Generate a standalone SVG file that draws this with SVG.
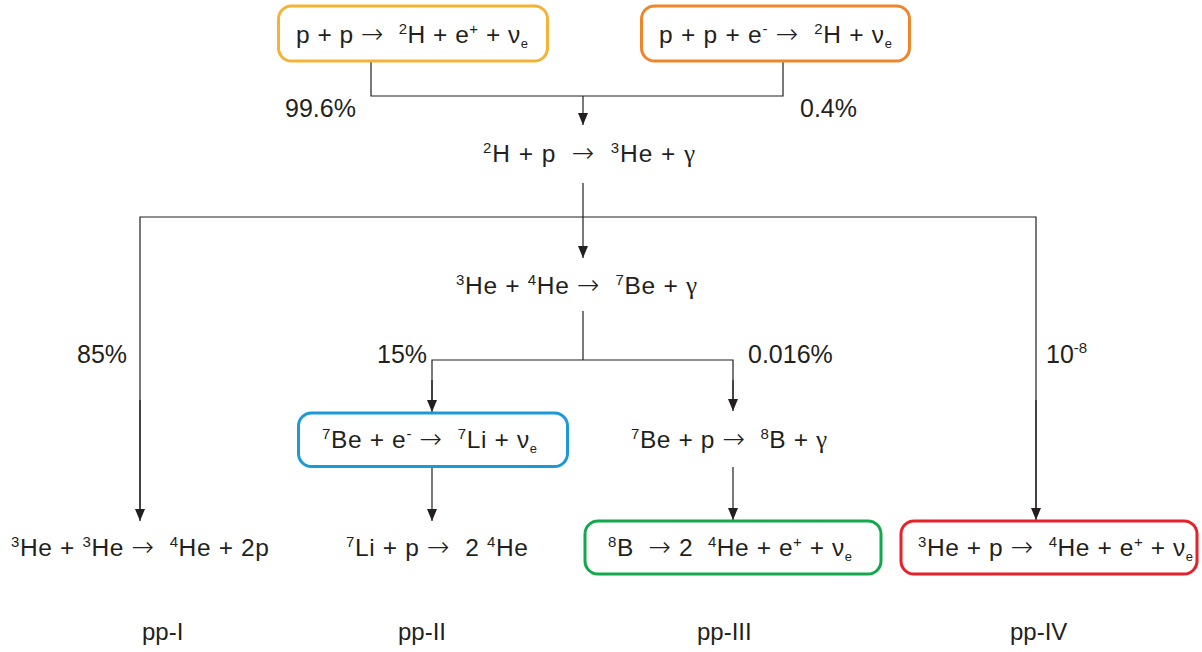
<svg xmlns="http://www.w3.org/2000/svg" width="1202" height="652" viewBox="0 0 1202 652">
<defs>
<style>
text{font-family:"Liberation Sans",Arial,Helvetica,sans-serif;fill:#231F20;white-space:pre}
.eq{font-size:24.5px}
.pct{font-size:25px}
.lbl{font-size:24px}
.sup{font-size:15px}
.sub{font-size:13px}
.gam{font-family:"Liberation Serif","Times New Roman",serif;font-size:25px}
.arr{font-family:"DejaVu Sans",sans-serif;font-size:27px;font-weight:200}
.box{fill:#fff;stroke-width:3}
.ln{fill:none;stroke:#231F20;stroke-width:1.2}
.ar{fill:none;stroke:#231F20;stroke-width:1.2;marker-end:url(#ah)}
</style>
<marker id="ah" markerUnits="userSpaceOnUse" markerWidth="12" markerHeight="12" viewBox="0 0 12 10" refX="12" refY="5" orient="auto">
<path d="M0,0 L12,5 L0,10 Z" fill="#231F20"/>
</marker>
</defs>
<rect width="1202" height="652" fill="#fff"/>
<g id="connectors">
<polyline class="ln" points="371,61 371,96 783,96 783,61"/>
<line class="ar" x1="583" y1="96" x2="583" y2="125"/>
<line class="ar" x1="583" y1="183" x2="583" y2="258"/>
<polyline class="ln" points="140,510 140,217 1036,217 1036,510"/>
<line class="ar" x1="140" y1="400" x2="140" y2="521"/>
<line class="ar" x1="1036" y1="400" x2="1036" y2="520"/>
<line class="ln" x1="583" y1="311" x2="583" y2="360"/>
<polyline class="ln" points="432,400 432,360 733,360 733,400"/>
<line class="ar" x1="432" y1="380" x2="432" y2="412"/>
<line class="ar" x1="733" y1="380" x2="733" y2="411"/>
<line class="ar" x1="432" y1="467" x2="432" y2="521"/>
<line class="ar" x1="733" y1="467" x2="733" y2="520"/>
</g>
<g id="n-pp">
<rect class="box" x="278.5" y="6" width="269" height="55" rx="13" stroke="#F5B335"/>
<text class="eq" x="296" y="43" textLength="232" lengthAdjust="spacing" xml:space="preserve">p + p <tspan class="arr">→</tspan>  <tspan class="sup" dy="-9">2</tspan><tspan dy="9">H + e</tspan><tspan class="sup" dy="-9">+</tspan><tspan dy="9"> + ν</tspan><tspan class="sub" dy="5">e</tspan></text>
</g>
<g id="n-pep">
<rect class="box" x="641.5" y="6" width="268" height="55" rx="13" stroke="#F0862A"/>
<text class="eq" x="659" y="43" textLength="233" lengthAdjust="spacing" xml:space="preserve">p + p + e<tspan class="sup" dy="-9">-</tspan><tspan dy="9"> </tspan><tspan class="arr">→</tspan>  <tspan class="sup" dy="-9">2</tspan><tspan dy="9">H + ν</tspan><tspan class="sub" dy="5">e</tspan></text>
</g>
<g id="l-996"><text class="pct" x="285" y="117">99.6%</text></g>
<g id="l-04"><text class="pct" x="800" y="117">0.4%</text></g>
<g id="n-dp">
<text class="eq" x="483" y="162" textLength="212" lengthAdjust="spacing" xml:space="preserve"><tspan class="sup" dy="-9">2</tspan><tspan dy="9">H + p  </tspan><tspan class="arr">→</tspan>  <tspan class="sup" dy="-9">3</tspan><tspan dy="9">He + </tspan><tspan class="gam">γ</tspan></text>
</g>
<g id="n-he34">
<text class="eq" x="456" y="294" textLength="241" lengthAdjust="spacing" xml:space="preserve"><tspan class="sup" dy="-9">3</tspan><tspan dy="9">He + </tspan><tspan class="sup" dy="-9">4</tspan><tspan dy="9">He </tspan><tspan class="arr">→</tspan>  <tspan class="sup" dy="-9">7</tspan><tspan dy="9">Be + </tspan><tspan class="gam">γ</tspan></text>
</g>
<g id="l-85"><text class="pct" x="77" y="363">85%</text></g>
<g id="l-15"><text class="pct" x="377" y="363">15%</text></g>
<g id="l-0016"><text class="pct" x="748" y="363">0.016%</text></g>
<g id="l-108"><text class="pct" x="1046" y="363">10<tspan class="sup" dy="-10">-8</tspan></text></g>
<g id="n-be7e">
<rect class="box" x="298.5" y="413" width="269" height="53.5" rx="13" stroke="#1B9AD7"/>
<text class="eq" x="322" y="448" textLength="215" lengthAdjust="spacing" xml:space="preserve"><tspan class="sup" dy="-9">7</tspan><tspan dy="9">Be + e</tspan><tspan class="sup" dy="-9">-</tspan><tspan dy="9"> </tspan><tspan class="arr">→</tspan>  <tspan class="sup" dy="-9">7</tspan><tspan dy="9">Li + ν</tspan><tspan class="sub" dy="5">e</tspan></text>
</g>
<g id="n-be7p">
<text class="eq" x="631" y="448" textLength="196" lengthAdjust="spacing" xml:space="preserve"><tspan class="sup" dy="-9">7</tspan><tspan dy="9">Be + p </tspan><tspan class="arr">→</tspan>  <tspan class="sup" dy="-9">8</tspan><tspan dy="9">B + </tspan><tspan class="gam">γ</tspan></text>
</g>
<g id="n-he33">
<text class="eq" x="11" y="556" textLength="258" lengthAdjust="spacing" xml:space="preserve"><tspan class="sup" dy="-9">3</tspan><tspan dy="9">He + </tspan><tspan class="sup" dy="-9">3</tspan><tspan dy="9">He </tspan><tspan class="arr">→</tspan>  <tspan class="sup" dy="-9">4</tspan><tspan dy="9">He + 2p</tspan></text>
</g>
<g id="n-li7p">
<text class="eq" x="346" y="556" textLength="182" lengthAdjust="spacing" xml:space="preserve"><tspan class="sup" dy="-9">7</tspan><tspan dy="9">Li + p </tspan><tspan class="arr">→</tspan>  2 <tspan class="sup" dy="-9">4</tspan><tspan dy="9">He</tspan></text>
</g>
<g id="n-b8">
<rect class="box" x="585" y="521" width="296" height="53" rx="13" stroke="#12A84B"/>
<text class="eq" x="608" y="556" textLength="244" lengthAdjust="spacing" xml:space="preserve"><tspan class="sup" dy="-9">8</tspan><tspan dy="9">B  </tspan><tspan class="arr">→</tspan> 2  <tspan class="sup" dy="-9">4</tspan><tspan dy="9">He + e</tspan><tspan class="sup" dy="-9">+</tspan><tspan dy="9"> + ν</tspan><tspan class="sub" dy="5">e</tspan></text>
</g>
<g id="n-hep">
<rect class="box" x="901" y="521" width="296" height="53" rx="13" stroke="#E6212A"/>
<text class="eq" x="918" y="556" textLength="275" lengthAdjust="spacing" xml:space="preserve"><tspan class="sup" dy="-9">3</tspan><tspan dy="9">He + p </tspan><tspan class="arr">→</tspan>  <tspan class="sup" dy="-9">4</tspan><tspan dy="9">He + e</tspan><tspan class="sup" dy="-9">+</tspan><tspan dy="9"> + ν</tspan><tspan class="sub" dy="5">e</tspan></text>
</g>
<g id="l-ppI"><text class="lbl" x="142" y="640">pp-I</text></g>
<g id="l-ppII"><text class="lbl" x="398" y="640">pp-II</text></g>
<g id="l-ppIII"><text class="lbl" x="697" y="640">pp-III</text></g>
<g id="l-ppIV"><text class="lbl" x="1010" y="640">pp-IV</text></g>
</svg>
